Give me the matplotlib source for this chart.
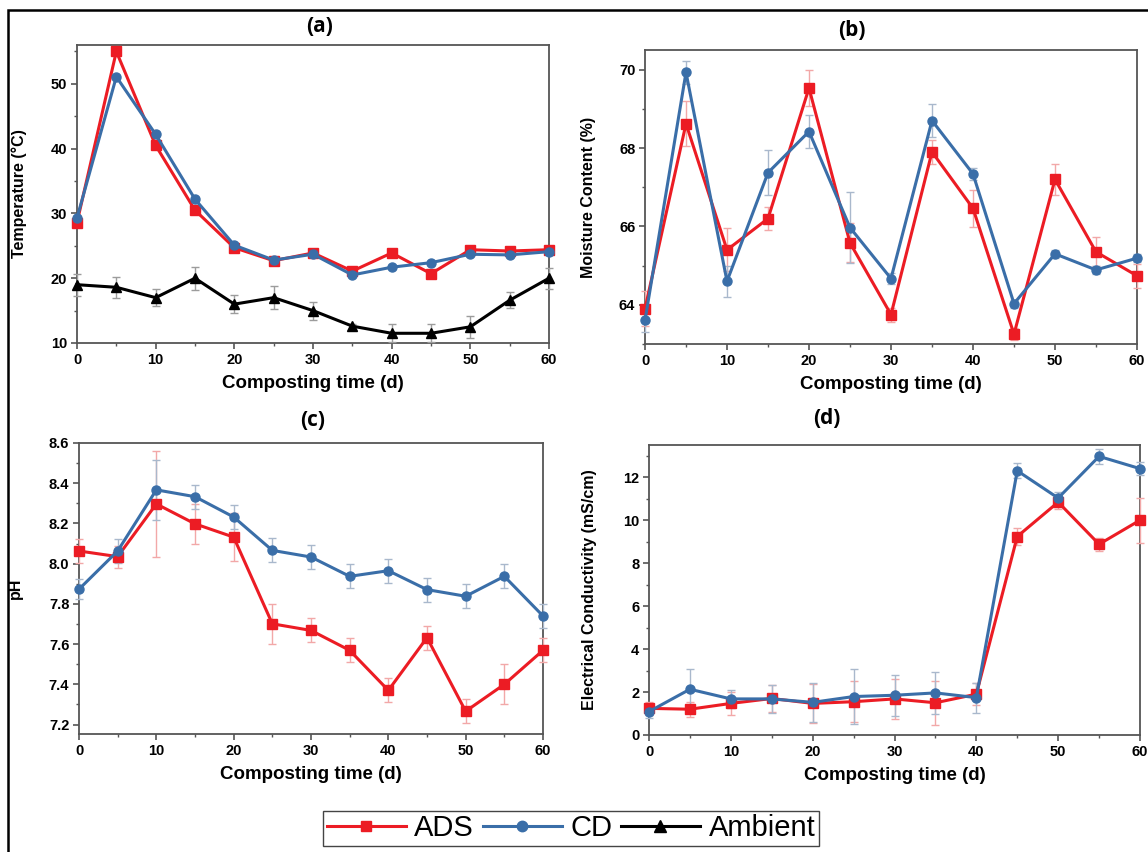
"""Composting parameters over time: temperature, moisture, pH and EC (4-panel)."""

import matplotlib
matplotlib.use("Agg")
import matplotlib.pyplot as plt
from matplotlib.lines import Line2D
from matplotlib.patches import Rectangle
from matplotlib.ticker import AutoMinorLocator

days = [0, 5, 10, 15, 20, 25, 30, 35, 40, 45, 50, 55, 60]

# (a) temperature, degC
temp_ads = [28.6, 55.0, 40.5, 30.5, 24.7, 22.7, 23.9, 21.1, 23.9, 20.7, 24.4, 24.2, 24.4]
temp_cd = [29.3, 51.1, 42.2, 32.2, 25.1, 22.8, 23.7, 20.5, 21.7, 22.4, 23.7, 23.6, 24.1]
temp_amb = [19.0, 18.6, 17.0, 20.0, 16.0, 17.0, 15.0, 12.6, 11.5, 11.5, 12.5, 16.6, 20.0]
temp_ads_err = [0.3] * 13
temp_cd_err = [0.3] * 13
temp_amb_err = [1.7, 1.65, 1.3, 1.8, 1.4, 1.8, 1.4, 0.4, 1.4, 1.4, 1.7, 1.2, 1.6]

# (b) moisture content, %
moist_ads = [63.9, 68.62, 65.4, 66.2, 69.53, 65.58, 63.75, 67.9, 66.46, 63.25, 67.2, 65.35, 64.74]
moist_cd = [63.6, 69.93, 64.6, 67.37, 68.42, 65.97, 64.67, 68.7, 67.34, 64.03, 65.3, 64.89, 65.19]
moist_ads_err = [0.45, 0.57, 0.55, 0.3, 0.47, 0.5, 0.18, 0.3, 0.48, 0.15, 0.4, 0.37, 0.3]
moist_cd_err = [0.3, 0.3, 0.4, 0.57, 0.42, 0.9, 0.15, 0.43, 0.15, 0.1, 0.1, 0.1, 0.1]

# (c) pH
ph_ads = [8.063, 8.035, 8.297, 8.198, 8.132, 7.701, 7.668, 7.569, 7.37, 7.632, 7.266, 7.40, 7.569]
ph_cd = [7.873, 8.063, 8.367, 8.333, 8.232, 8.066, 8.033, 7.937, 7.965, 7.871, 7.838, 7.937, 7.74]
ph_ads_err = [0.06, 0.055, 0.265, 0.1, 0.12, 0.1, 0.06, 0.06, 0.06, 0.06, 0.06, 0.1, 0.06]
ph_cd_err = [0.05, 0.06, 0.15, 0.06, 0.06, 0.06, 0.06, 0.06, 0.06, 0.06, 0.06, 0.06, 0.06]

# (d) electrical conductivity, mS/cm
ec_ads = [1.24, 1.2, 1.47, 1.7, 1.47, 1.55, 1.68, 1.5, 1.9, 9.24, 10.84, 8.88, 10.0]
ec_cd = [1.09, 2.13, 1.68, 1.68, 1.52, 1.79, 1.85, 1.96, 1.74, 12.3, 11.03, 12.97, 12.4]
ec_ads_err = [0.3, 0.35, 0.55, 0.65, 0.92, 0.95, 0.95, 1.03, 0.5, 0.4, 0.3, 0.3, 1.05]
ec_cd_err = [0.3, 0.93, 0.4, 0.65, 0.9, 1.27, 0.95, 0.96, 0.7, 0.35, 0.3, 0.35, 0.3]

RED = "#ec1c24"
BLUE = "#3a6ea8"
RED_ERR = "#f2a8a8"
BLUE_ERR = "#a9b8cc"
GREY_ERR = "#9c9c9c"
SPINE = "#555555"

TICK_FONT = {"family": "Liberation Sans", "weight": "bold", "size": 10.5}
YLAB_FONT = {"family": ["Liberation Sans Narrow", "Liberation Sans"], "weight": "bold", "size": 11.5}

fig = plt.figure(figsize=(11.48, 8.52), dpi=100)
W, H = 1148, 852


def px_axes(left, top, right, bottom):
    return fig.add_axes([left / W, 1 - bottom / H, (right - left) / W, (bottom - top) / H])


def draw_series(ax, y, err, color, ecolor, marker, ms):
    ax.errorbar(days, y, yerr=err, color=color, ecolor=ecolor, elinewidth=1.0,
                capsize=3, capthick=1.0, lw=2.2, marker=marker, ms=ms,
                mec=color, mfc=color, clip_on=False, zorder=3)


def style(ax, ylim, yticks, ylabel, ylab_x):
    ax.set_xlim(0, 60)
    ax.set_ylim(*ylim)
    ax.set_xticks(range(0, 61, 10))
    ax.set_yticks(yticks)
    ax.xaxis.set_minor_locator(AutoMinorLocator(2))
    ax.yaxis.set_minor_locator(AutoMinorLocator(2))
    for s in ax.spines.values():
        s.set_color(SPINE)
        s.set_linewidth(1.3)
    ax.tick_params(which="major", direction="out", length=4, width=1.2, color=SPINE, pad=3)
    ax.tick_params(which="minor", direction="out", length=2.5, width=1.0, color=SPINE)
    for lab in ax.get_xticklabels() + ax.get_yticklabels():
        lab.set_fontproperties(TICK_FONT)
    ax.set_xlabel("Composting time (d)", family="Liberation Sans", weight="bold",
                  size=13.5, labelpad=6)
    ax.set_ylabel(ylabel, **YLAB_FONT)
    ax.yaxis.set_label_coords(ylab_x, 0.5)


# (a)
ax_a = px_axes(77, 45, 549, 343)
draw_series(ax_a, temp_ads, temp_ads_err, RED, RED_ERR, "s", 6.5)
draw_series(ax_a, temp_cd, temp_cd_err, BLUE, BLUE_ERR, "o", 6.5)
draw_series(ax_a, temp_amb, temp_amb_err, "black", GREY_ERR, "^", 7)
style(ax_a, (10, 56), [10, 20, 30, 40, 50], "Temperature (°C)", -0.105)

# (b)
ax_b = px_axes(645, 50, 1137, 344)
draw_series(ax_b, moist_ads, moist_ads_err, RED, RED_ERR, "s", 6.5)
draw_series(ax_b, moist_cd, moist_cd_err, BLUE, BLUE_ERR, "o", 6.5)
style(ax_b, (63.0, 70.5), [64, 66, 68, 70], "Moisture Content (%)", -0.1)

# (c)
ax_c = px_axes(79, 443, 543, 734)
draw_series(ax_c, ph_ads, ph_ads_err, RED, RED_ERR, "s", 6.5)
draw_series(ax_c, ph_cd, ph_cd_err, BLUE, BLUE_ERR, "o", 6.5)
style(ax_c, (7.153, 8.6), [7.2, 7.4, 7.6, 7.8, 8.0, 8.2, 8.4, 8.6], "pH", -0.12)

# (d)
ax_d = px_axes(649, 445, 1140, 735)
draw_series(ax_d, ec_ads, ec_ads_err, RED, RED_ERR, "s", 6.5)
draw_series(ax_d, ec_cd, ec_cd_err, BLUE, BLUE_ERR, "o", 6.5)
style(ax_d, (0, 13.5), [0, 2, 4, 6, 8, 10, 12], "Electrical Conductivity (mS/cm)", -0.106)

# panel letters sit a bit off-centre in the original
for label, (x, y) in {"(a)": (320, 26), "(b)": (852, 31),
                      "(c)": (313, 421), "(d)": (827, 418)}.items():
    fig.text(x / W, 1 - y / H, label, ha="center", va="center",
             family="Open Sans", weight="bold", size=15)

handles = [
    Line2D([], [], color=RED, lw=2.2, marker="s", ms=7.5),
    Line2D([], [], color=BLUE, lw=2.2, marker="o", ms=7.5),
    Line2D([], [], color="black", lw=2.2, marker="^", ms=8.5),
]
leg = fig.legend(handles, ["ADS", "CD", "Ambient"], loc="center",
                 bbox_to_anchor=(571 / W, 1 - 828 / H), ncol=3,
                 prop={"family": "Liberation Sans", "size": 21},
                 handlelength=2.7, handletextpad=0.3, columnspacing=0.3,
                 borderpad=0.12, fancybox=False, framealpha=1)
leg.get_frame().set_edgecolor("#444444")
leg.get_frame().set_linewidth(1.0)

# outer black frame, cropped on the right and bottom like the source image
fig.patches.append(Rectangle((8 / W, -0.05), 1.1, 1 - 10 / H + 0.05, transform=fig.transFigure,
                             fill=False, ec="black", lw=1.8, clip_on=False))

fig.savefig("out.png", dpi=100)
